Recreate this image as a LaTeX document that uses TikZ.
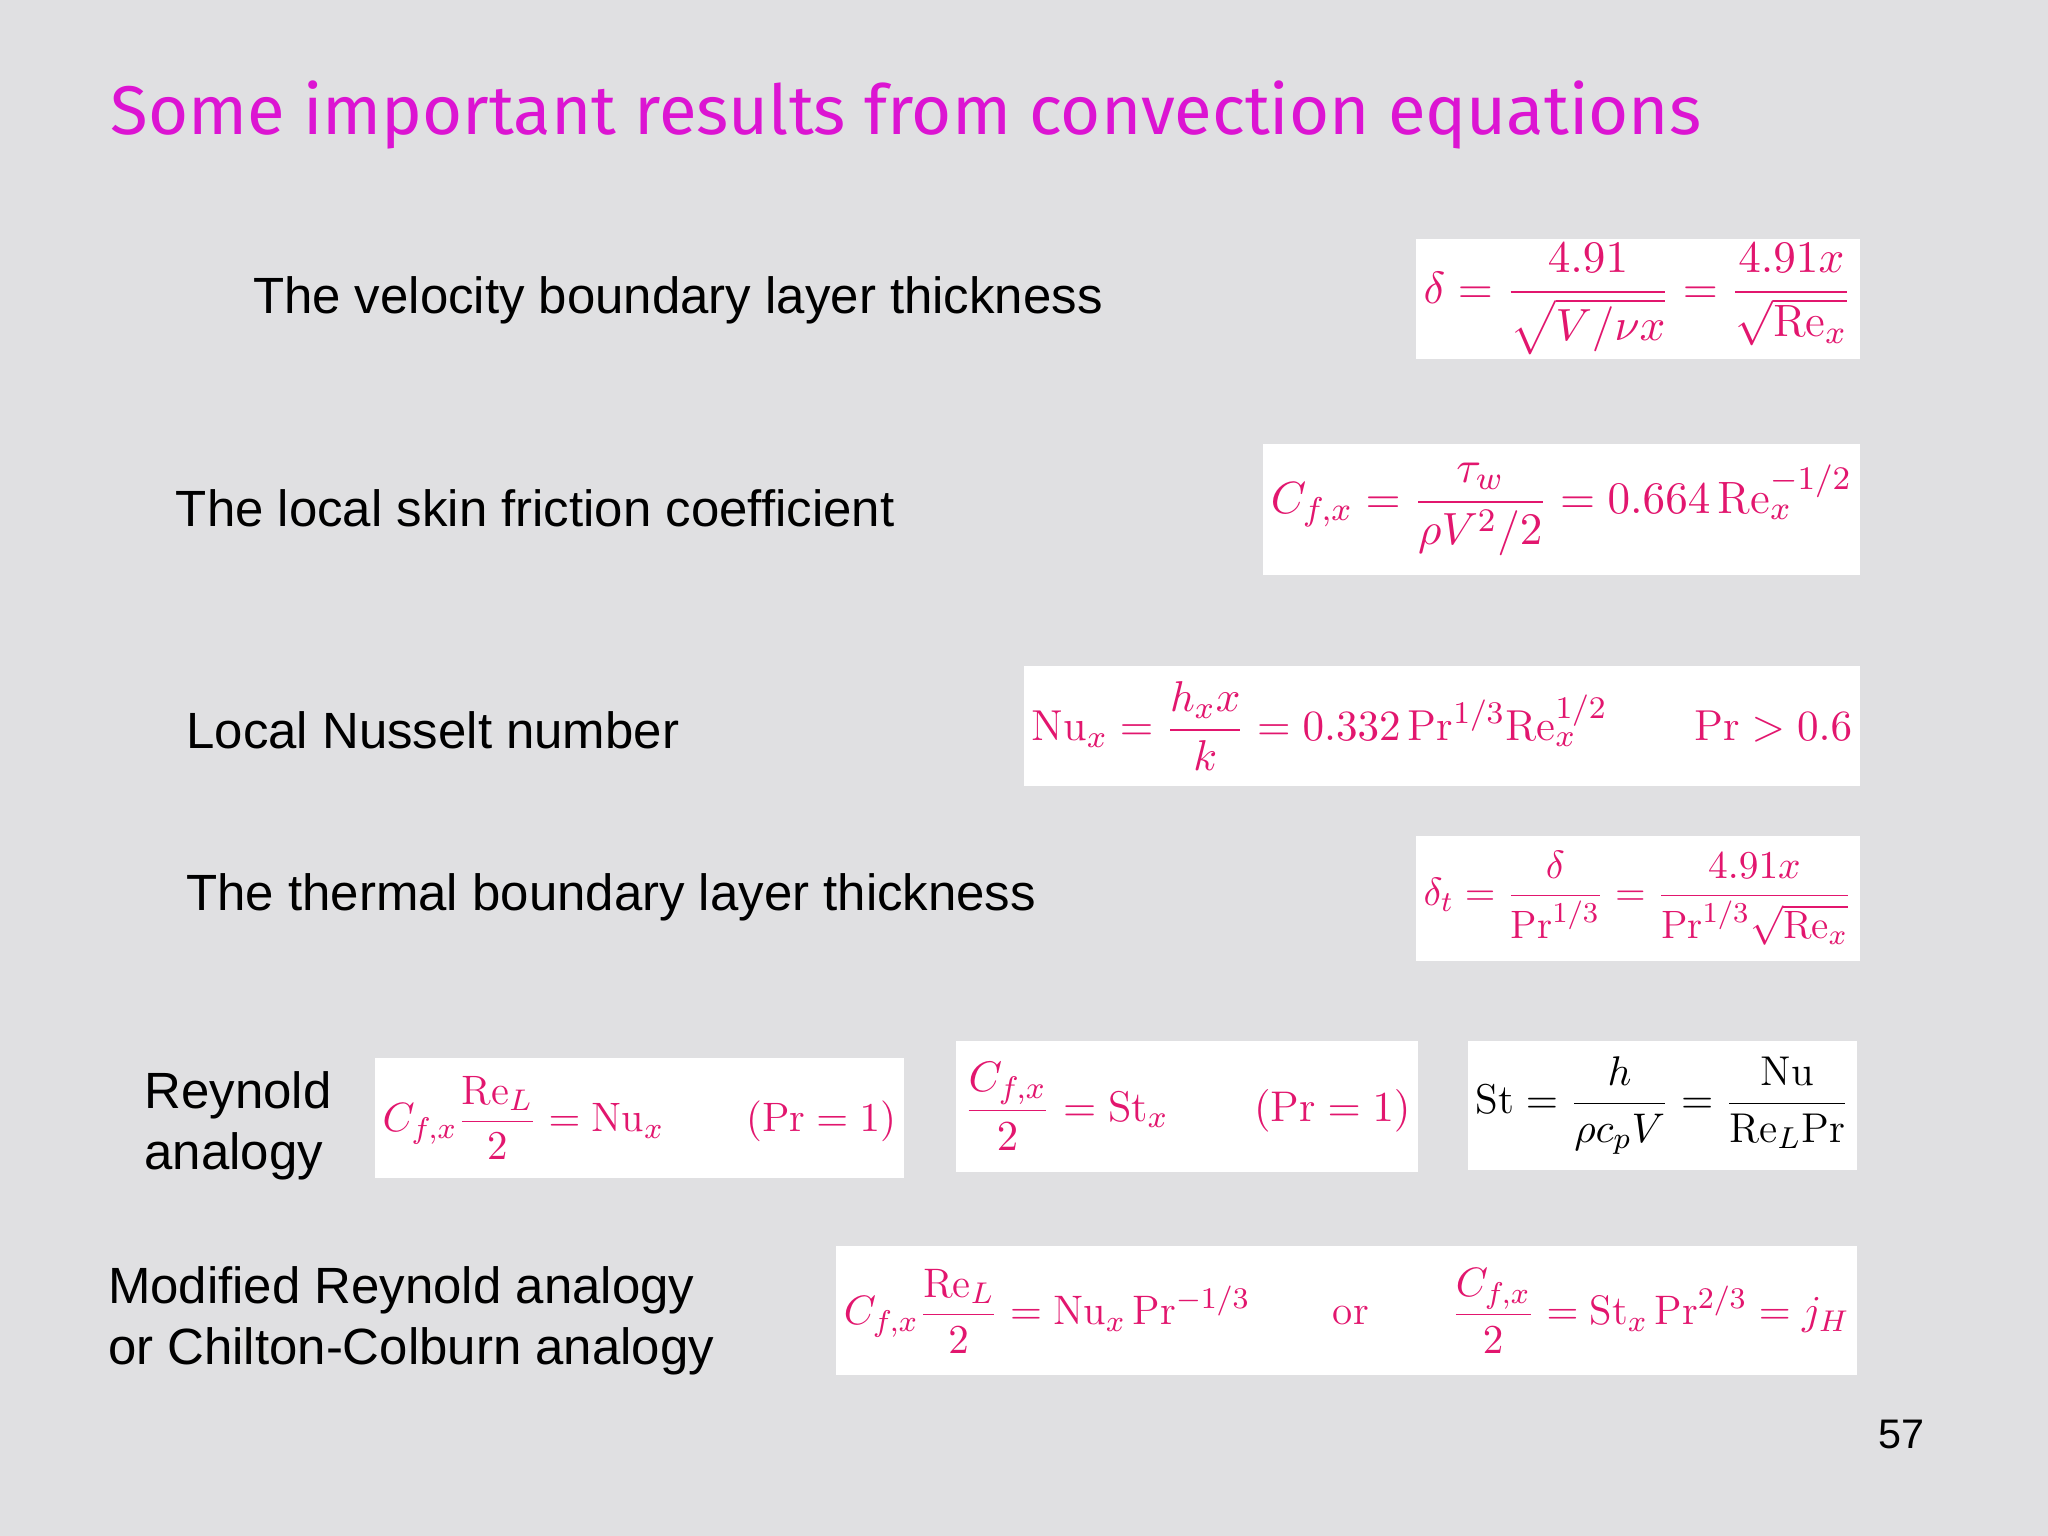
\documentclass[tikz,border=0pt]{standalone}
\usepackage{fontspec}
\usepackage{amsmath}
\setsansfont{Liberation Sans}
\newfontfamily\titlefont{Fira Sans}
\definecolor{bg}{RGB}{224,224,226}
\definecolor{eqc}{RGB}{226,22,110}
\definecolor{ttl}{RGB}{220,20,210}
\tikzset{
  lbl/.style={font=\sffamily\fontsize{11.1}{13.3}\selectfont, anchor=west, align=left, inner sep=0pt},
  box/.style={fill=white, draw=none},
  eq/.style={text=eqc, font=\fontsize{11}{13}\selectfont}
}
\newcommand{\eqbox}[6]{%
  \fill[box] (#1,#2) rectangle (#3,#4);
  \node[eq] (#5) at ({(#1+#3)/2},{(#2+#4)/2}) {\resizebox{\dimexpr #3cm-#1cm-0.12cm\relax}{!}{#6}};}
\begin{document}
\begin{tikzpicture}
\useasboundingbox (0,0) rectangle (15.68,-11.76);
\fill[bg] (0,0) rectangle (15.68,-11.76);
\node[anchor=west, text=ttl, font=\titlefont\fontsize{15}{18}\selectfont, inner sep=0pt] (title) at (0.84,-0.88) {Some important results from convection equations};

\node[lbl] (l1) at (1.93,-2.3) {The velocity boundary layer thickness};
\eqbox{10.84}{-1.83}{14.24}{-2.75}{e1}{$\delta=\dfrac{4.91}{\sqrt{V/\nu x}}=\dfrac{4.91x}{\sqrt{\mathrm{Re}_x}}$}

\node[lbl] (l2) at (1.34,-3.89) {The local skin friction coefficient};
\eqbox{9.67}{-3.40}{14.24}{-4.40}{e2}{$C_{f,x}=\dfrac{\tau_w}{\rho V^2/2}=0.664\,\mathrm{Re}_x^{-1/2}$}

\node[lbl] (l3) at (1.42,-5.59) {Local Nusselt number};
\eqbox{7.84}{-5.10}{14.24}{-6.02}{e3}{$\mathrm{Nu}_x=\dfrac{h_x x}{k}=0.332\,\mathrm{Pr}^{1/3}\mathrm{Re}_x^{1/2}\qquad \mathrm{Pr}>0.6$}

\node[lbl] (l4) at (1.42,-6.87) {The thermal boundary layer thickness};
\eqbox{10.84}{-6.40}{14.24}{-7.36}{e4}{$\delta_t=\dfrac{\delta}{\mathrm{Pr}^{1/3}}=\dfrac{4.91x}{\mathrm{Pr}^{1/3}\sqrt{\mathrm{Re}_x}}$}

\node[lbl] (l5) at (1.1,-8.62) {Reynold\\analogy};
\eqbox{2.87}{-8.10}{6.92}{-9.02}{e5a}{$C_{f,x}\dfrac{\mathrm{Re}_L}{2}=\mathrm{Nu}_x\qquad(\mathrm{Pr}=1)$}
\eqbox{7.32}{-7.97}{10.86}{-8.97}{e5b}{$\dfrac{C_{f,x}}{2}=\mathrm{St}_x\qquad(\mathrm{Pr}=1)$}
\eqbox{11.24}{-7.97}{14.22}{-8.96}{e5c}{\color{black}$\mathrm{St}=\dfrac{h}{\rho c_p V}=\dfrac{\mathrm{Nu}}{\mathrm{Re}_L\mathrm{Pr}}$}

\node[lbl] (l6) at (0.82,-10.11) {Modified Reynold analogy\\or Chilton-Colburn analogy};
\eqbox{6.40}{-9.54}{14.22}{-10.53}{e6}{$C_{f,x}\dfrac{\mathrm{Re}_L}{2}=\mathrm{Nu}_x\,\mathrm{Pr}^{-1/3}\qquad\mathrm{or}\qquad\dfrac{C_{f,x}}{2}=\mathrm{St}_x\,\mathrm{Pr}^{2/3}=j_H$}

\node[font=\sffamily\fontsize{9}{11}\selectfont] (pg) at (14.56,-10.98) {57};
\end{tikzpicture}
\end{document}
